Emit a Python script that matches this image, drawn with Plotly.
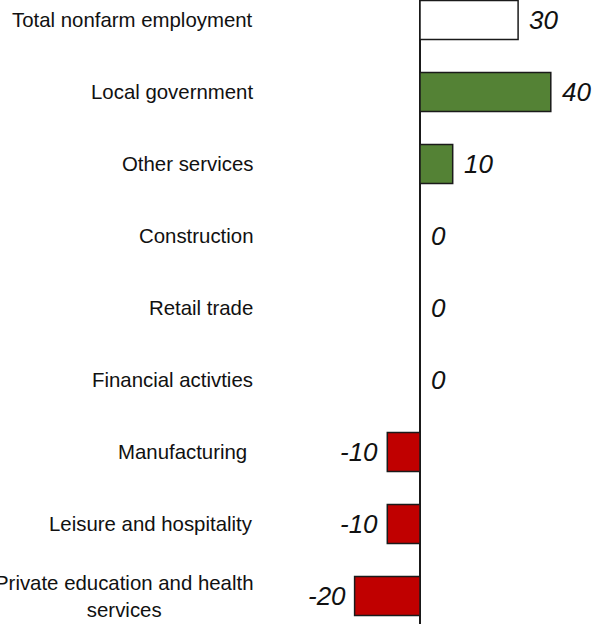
import plotly.graph_objects as go

categories = [
    "Total nonfarm employment",
    "Local government",
    "Other services",
    "Construction",
    "Retail trade",
    "Financial activties",
    "Manufacturing ",
    "Leisure and hospitality",
    "Private education and health<br>services",
]
values = [30, 40, 10, 0, 0, 0, -10, -10, -20]
value_labels = ["30", "40", "10", "0", "0", "0", "-10", "-10", "-20"]

GREEN = "#548235"
RED = "#C00000"
FONT = "Arial, Liberation Sans, sans-serif"


def color_for(i, v):
    if i == 0:
        return "white"
    if v > 0:
        return GREEN
    return RED


colors = [color_for(i, v) for i, v in enumerate(values)]
idx = list(range(len(categories)))

W, H = 597, 624
ZERO_PX = 420
PX_PER_UNIT = 3.27
x_range = [-ZERO_PX / PX_PER_UNIT, (W - ZERO_PX) / PX_PER_UNIT]

ROW = 72.0
FIRST_CENTER = 20.0
n = len(categories)
y_top = -FIRST_CENTER / ROW
y_bot = (n - 1) + (H - (FIRST_CENTER + ROW * (n - 1))) / ROW

fig = go.Figure()
fig.add_trace(
    go.Bar(
        x=values,
        y=idx,
        orientation="h",
        width=0.54,
        marker=dict(color=colors, line=dict(color="#1a1a1a", width=1.5)),
        showlegend=False,
        hoverinfo="skip",
        cliponaxis=False,
    )
)

annotations = []
for i, (v, t) in enumerate(zip(values, value_labels)):
    if v < 0:
        annotations.append(dict(x=v, y=i, xref="x", yref="y", text="<i>" + t + "</i>",
                                showarrow=False, xanchor="right", xshift=-7,
                                font=dict(family=FONT, size=26, color="#111111")))
    else:
        annotations.append(dict(x=v, y=i, xref="x", yref="y", text="<i>" + t + "</i>",
                                showarrow=False, xanchor="left", xshift=9,
                                font=dict(family=FONT, size=26, color="#111111")))

for i, c in enumerate(categories):
    annotations.append(dict(x=255 / W, y=i, xref="paper", yref="y", text=c,
                            showarrow=False, xanchor="right", align="center",
                            font=dict(family=FONT, size=20.4, color="#111111")))

fig.update_layout(
    width=W,
    height=H,
    autosize=False,
    margin=dict(l=0, r=0, t=0, b=0),
    paper_bgcolor="white",
    plot_bgcolor="white",
    annotations=annotations,
    xaxis=dict(range=x_range, showgrid=False, showticklabels=False, zeroline=True,
               zerolinecolor="#1a1a1a", zerolinewidth=1.5, fixedrange=True),
    yaxis=dict(range=[y_bot, y_top], showgrid=False, showticklabels=False, zeroline=False,
               fixedrange=True),
)

fig.write_html(
    "out.html",
    config={"displayModeBar": False},
    post_script="document.body.style.margin='0';document.body.style.overflow='hidden';",
)
